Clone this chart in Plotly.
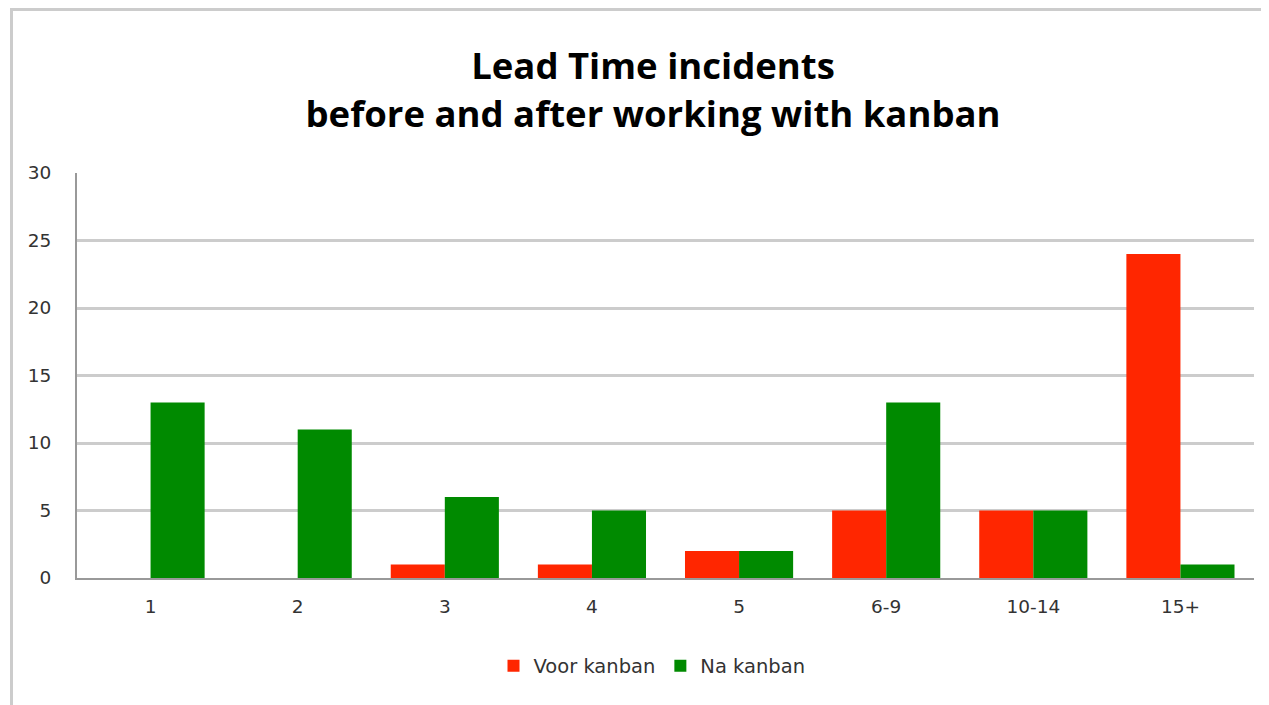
import plotly.graph_objects as go

categories = ["1", "2", "3", "4", "5", "6-9", "10-14", "15+"]
voor_kanban = [0, 0, 1, 1, 2, 5, 5, 24]
na_kanban = [13, 11, 6, 5, 2, 13, 5, 1]
y_ticks = [0, 5, 10, 15, 20, 25, 30]

W, H = 1269, 705
OFF = 8  # page body margin offset
L, R, T, B = 77 - OFF, 15 + OFF, 173 - OFF, 127 + OFF
pw, ph = W - L - R, H - T - B

fig = go.Figure()
fig.add_trace(go.Bar(name="Voor kanban", x=categories, y=voor_kanban,
                     marker=dict(color="#FF2600", line=dict(width=0))))
fig.add_trace(go.Bar(name="Na kanban", x=categories, y=na_kanban,
                     marker=dict(color="#008A00", line=dict(width=0))))

def px_x(x):
    return (x - L) / pw

def px_y(y):
    return (H - B - y) / ph

tick_font = dict(family="DejaVu Sans", size=18.5, color="#333333")

fig.update_layout(
    width=W, height=H,
    margin=dict(l=L, r=R, t=T, b=B),
    paper_bgcolor="white", plot_bgcolor="white",
    barmode="group", bargap=0.265, bargroupgap=0,
    font=dict(family="DejaVu Sans", color="#333333"),
    title=dict(text="<b>Lead Time incidents<br>before and after working with kanban</b>",
               x=px_x(653 - OFF), xref="paper", xanchor="center",
               y=0.899, yref="container", yanchor="middle",
               font=dict(size=36.5, color="#000000", family="Open Sans")),
    showlegend=True,
    legend=dict(orientation="h", x=px_x(652 - OFF), xanchor="center",
                y=px_y(666 - OFF), yanchor="middle",
                font=dict(family="DejaVu Sans", size=19.5, color="#333333"),
                itemwidth=30, traceorder="normal"),
    xaxis=dict(showgrid=False, showline=True, linecolor="#999999", linewidth=2,
               ticks="", tickfont=tick_font, ticklabelstandoff=11),
    yaxis=dict(range=[0, 30], tickvals=y_ticks, showgrid=True, gridcolor="#CCCCCC",
               gridwidth=2.5, showline=True, linecolor="#999999", linewidth=2,
               ticks="", tickfont=tick_font, zeroline=False,
               ticklabelstandoff=20),
    shapes=[
        dict(type="line", xref="paper", yref="paper", x0=px_x(11 - OFF), x1=px_x(1275),
             y0=px_y(9.5 - OFF), y1=px_y(9.5 - OFF), line=dict(color="#CCCCCC", width=3)),
        dict(type="line", xref="paper", yref="paper", x0=px_x(11.5 - OFF), x1=px_x(11.5 - OFF),
             y0=px_y(8 - OFF), y1=px_y(720), line=dict(color="#CCCCCC", width=3)),
    ],
)

fig.write_html("out.html")
